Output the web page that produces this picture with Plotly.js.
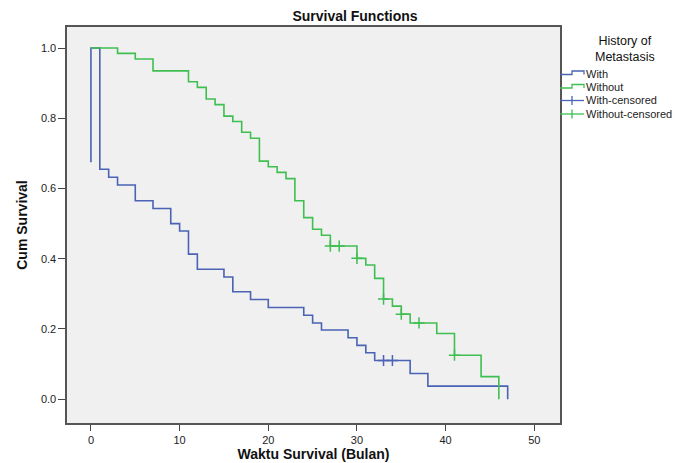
<!DOCTYPE html>
<html>
<head>
<meta charset="utf-8">
<script src="https://cdn.plot.ly/plotly-3.0.1.min.js"></script>
<style>html,body{margin:0;padding:0;background:#fff;}#chart{width:692px;height:463px;}</style>
</head>
<body>
<div id="chart"></div>
<script>
// ---- Data ----
const withTime = [0, 0, 1, 2, 3, 5, 7, 9, 10, 11, 12, 15, 16, 18, 20, 24, 25, 26, 29, 30, 31, 32, 36, 38, 47];
const withSurv = [0.675, 1.0, 0.655, 0.632, 0.610, 0.565, 0.543, 0.500, 0.479, 0.413, 0.370, 0.348, 0.306, 0.284, 0.261, 0.239, 0.217, 0.197, 0.175, 0.153, 0.132, 0.110, 0.073, 0.037, 0.0];
const withCensTime = [33, 34];
const withCensSurv = [0.110, 0.110];

const withoutTime = [0, 3, 5, 7, 11, 12, 13, 14, 15, 16, 17, 18, 19, 20, 21, 22, 23, 24, 25, 26, 27, 30, 31, 32, 33, 34, 35, 36, 39, 41, 44, 46];
const withoutSurv = [1.0, 0.985, 0.969, 0.935, 0.904, 0.888, 0.855, 0.839, 0.806, 0.791, 0.760, 0.743, 0.678, 0.662, 0.646, 0.628, 0.565, 0.517, 0.484, 0.467, 0.436, 0.401, 0.382, 0.344, 0.285, 0.265, 0.242, 0.217, 0.187, 0.125, 0.064, 0.0];
const withoutCensTime = [27, 28, 30, 33, 35, 37, 41];
const withoutCensSurv = [0.436, 0.436, 0.401, 0.285, 0.242, 0.217, 0.125];

const xTicks = [0, 10, 20, 30, 40, 50];
const yTicks = [0.0, 0.2, 0.4, 0.6, 0.8, 1.0];
const legendNames = ["With", "Without", "With-censored", "Without-censored"];

// ---- Style ----
const BLUE = "#4a63b4";
const GREEN = "#3fbf50";
const FONT = "Liberation Sans, Arial, sans-serif";

const W = 692, H = 463;
const M = {l: 67, r: 132, t: 27, b: 40};
const PW = W - M.l - M.r, PH = H - M.t - M.b;
const px = v => (v - M.l) / PW;           // pixel -> paper x
const py = v => (H - M.b - v) / PH;       // pixel -> paper y

const traces = [
  {x: withTime, y: withSurv, mode: "lines", line: {shape: "hv", color: BLUE, width: 1.6}, name: legendNames[0], showlegend: false, hoverinfo: "skip"},
  {x: withoutTime, y: withoutSurv, mode: "lines", line: {shape: "hv", color: GREEN, width: 1.6}, name: legendNames[1], showlegend: false, hoverinfo: "skip"},
  {x: withCensTime, y: withCensSurv, mode: "markers", marker: {symbol: "cross-thin-open", size: 8, color: BLUE, line: {color: BLUE, width: 1.5}}, name: legendNames[2], showlegend: false, hoverinfo: "skip"},
  {x: withoutCensTime, y: withoutCensSurv, mode: "markers", marker: {symbol: "cross-thin-open", size: 8, color: GREEN, line: {color: GREEN, width: 1.5}}, name: legendNames[3], showlegend: false, hoverinfo: "skip"}
];

// custom legend (SPSS style)
const legendRows = [73.5, 87, 100.5, 114];
const legendColors = [BLUE, GREEN, BLUE, GREEN];
const shapes = [];
const annotations = [];
legendRows.forEach((yy, i) => {
  if (i < 2) {
    const p = `M ${560} ${yy + 1} H ${572} V ${yy - 2.5} H ${584} V ${yy + 1}`;
    shapes.push({type: "path", xref: "paper", yref: "paper", path: "", line: {color: legendColors[i], width: 1.3}, _pix: p});
  } else {
    shapes.push({type: "line", xref: "paper", yref: "paper", x0: px(560), x1: px(584), y0: py(yy), y1: py(yy), line: {color: legendColors[i], width: 1.3}});
    shapes.push({type: "line", xref: "paper", yref: "paper", x0: px(572), x1: px(572), y0: py(yy - 4.5), y1: py(yy + 4.5), line: {color: legendColors[i], width: 1.3}});
  }
  annotations.push({xref: "paper", yref: "paper", x: px(584), y: py(yy), xanchor: "left", yanchor: "middle", showarrow: false, text: legendNames[i], font: {family: FONT, size: 11, color: "#222"}});
});
// convert pixel paths to paper-coordinate paths
shapes.forEach(s => {
  if (s._pix) {
    const tok = s._pix.split(" ");
    let out = [];
    for (let k = 0; k < tok.length; k++) {
      const t = tok[k];
      if (t === "M") { out.push("M", px(+tok[k+1]), py(+tok[k+2])); k += 2; }
      else if (t === "H") { out.push("H", px(+tok[k+1])); k += 1; }
      else if (t === "V") { out.push("V", py(+tok[k+1])); k += 1; }
    }
    s.path = out.join(" ");
    delete s._pix;
  }
});
annotations.push({xref: "paper", yref: "paper", x: px(625), y: py(49), xanchor: "center", yanchor: "middle", showarrow: false, align: "center",
  text: "History of<br>Metastasis", font: {family: FONT, size: 12.5, color: "#111"}});

const layout = {
  width: W, height: H,
  margin: M,
  paper_bgcolor: "#ffffff",
  plot_bgcolor: "#f0f0f0",
  showlegend: false,
  title: {text: "<b>Survival Functions</b>", x: 355 / W, xref: "container", xanchor: "center", y: 1 - 16 / H, yref: "container", yanchor: "middle",
    font: {family: FONT, size: 14, color: "#111"}},
  xaxis: {
    range: [-2.7, 52.9], tickvals: xTicks, ticktext: xTicks.map(String),
    ticks: "outside", ticklen: 6, tickwidth: 1, tickcolor: "#444",
    showgrid: false, zeroline: false,
    showline: true, linecolor: "#555", linewidth: 1.6, mirror: true,
    tickfont: {family: FONT, size: 11, color: "#222"},
    title: {text: "<b>Waktu Survival (Bulan)</b>", font: {family: FONT, size: 14, color: "#111"}, standoff: 4}
  },
  yaxis: {
    range: [-0.068, 1.060], tickvals: yTicks, ticktext: yTicks.map(v => v.toFixed(1)),
    ticks: "outside", ticklen: 7, tickwidth: 1, tickcolor: "#444",
    showgrid: false, zeroline: false,
    showline: true, linecolor: "#555", linewidth: 1.6, mirror: true,
    tickfont: {family: FONT, size: 11, color: "#222"},
    title: {text: "<b>Cum Survival</b>", font: {family: FONT, size: 14, color: "#111"}, standoff: 10}
  },
  shapes: shapes,
  annotations: annotations
};

Plotly.newPlot("chart", traces, layout, {displayModeBar: false, staticPlot: true});
</script>
</body>
</html>
